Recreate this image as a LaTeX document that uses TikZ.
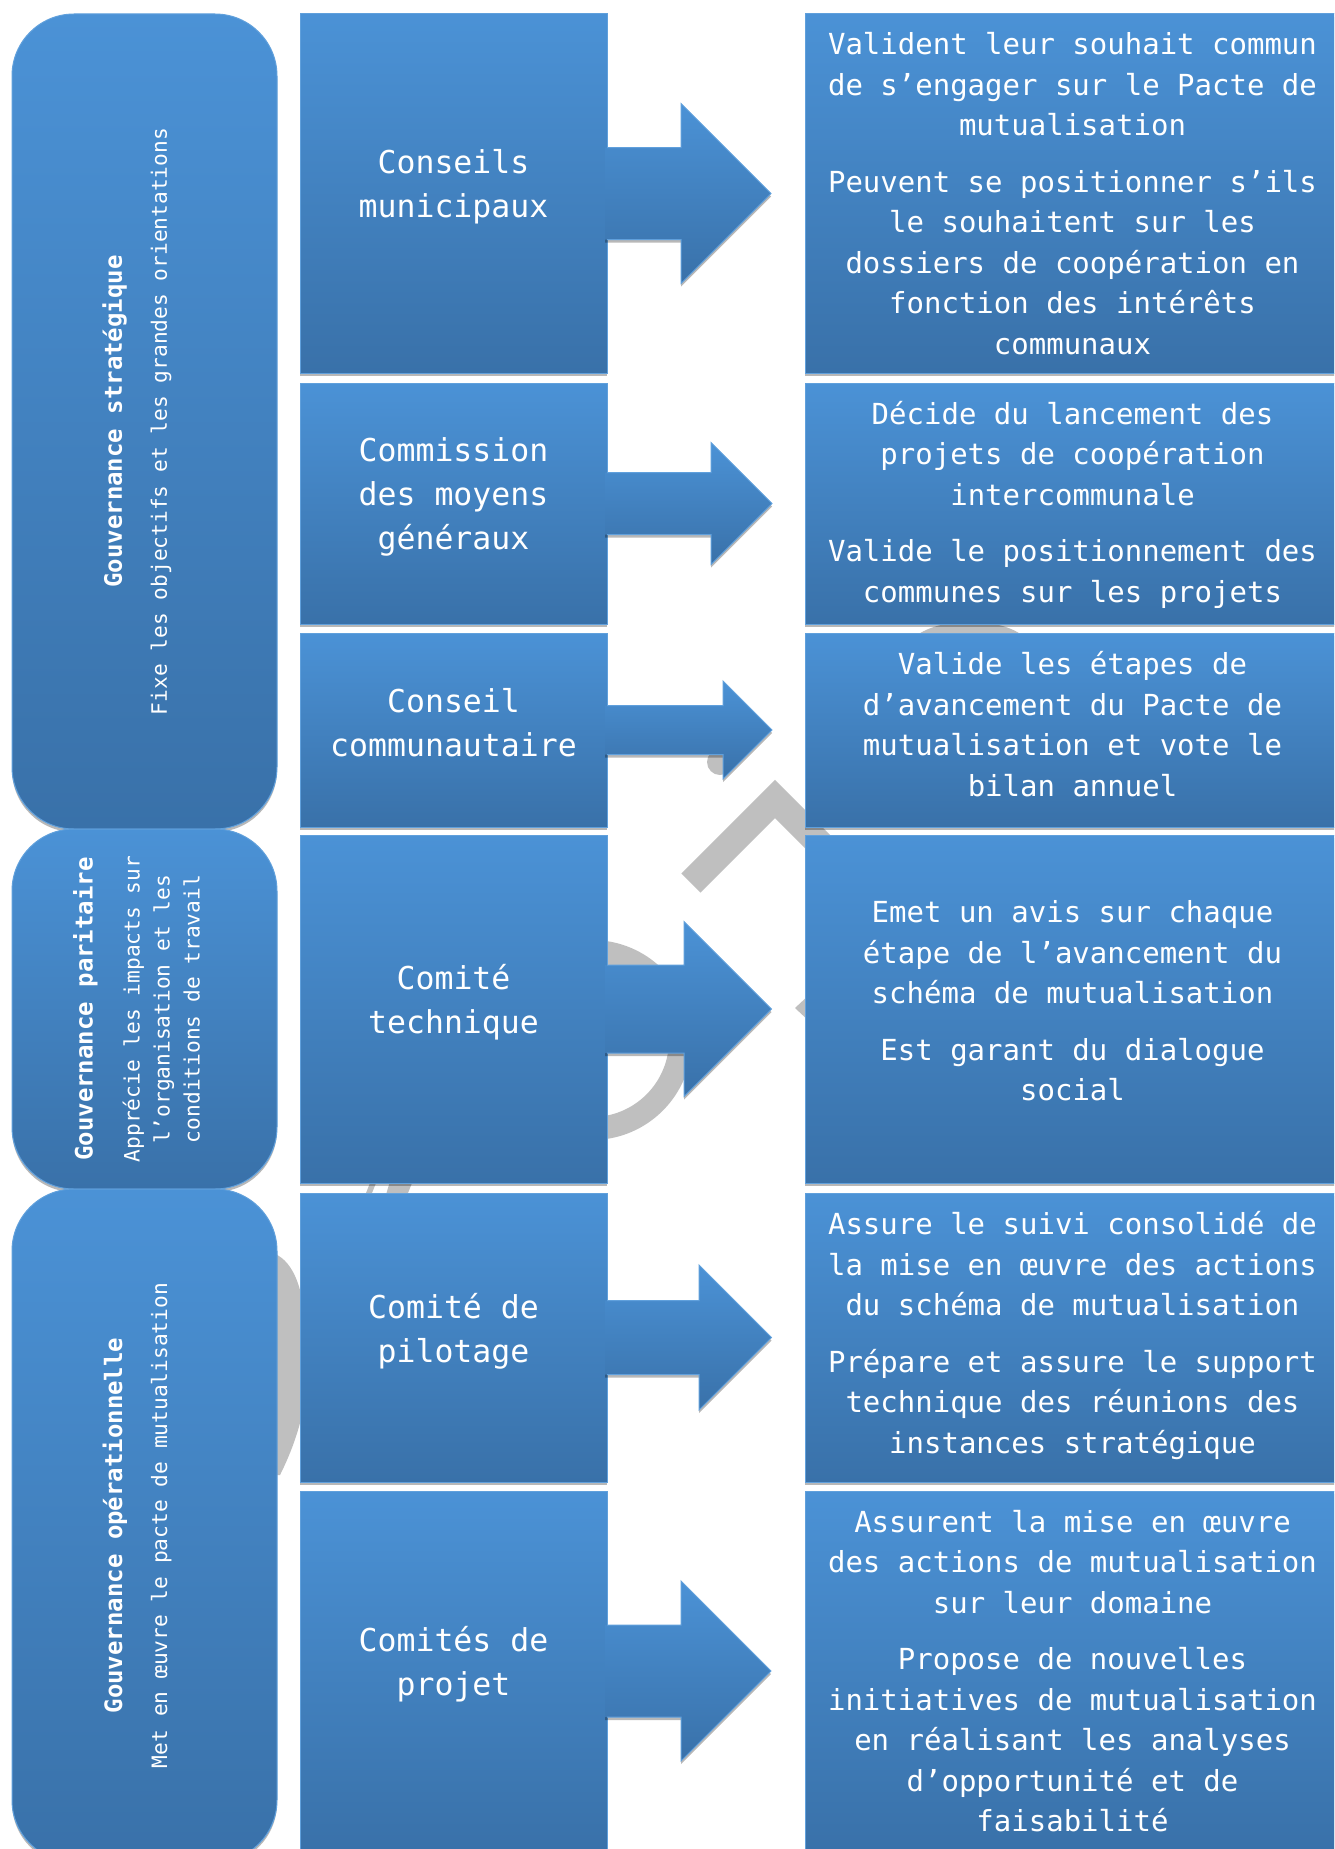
\documentclass[tikz,border=0pt]{standalone}
\usepackage{fontspec}
\setmainfont{DejaVu Sans Mono}
\usetikzlibrary{shadows,calc}
\definecolor{btop}{RGB}{75,146,214}
\definecolor{bbot}{RGB}{57,113,169}
\definecolor{bedge}{RGB}{96,160,220}
\definecolor{wmark}{RGB}{191,191,191}
\newcommand{\midfont}{\fontsize{31.5}{44}\selectfont}
\newcommand{\rfont}{\fontsize{29}{40.5}\selectfont}
\newcommand{\govsub}{\fontsize{21.2}{30}\selectfont}
\newcommand{\govtitle}{\fontsize{24}{30}\selectfont\bfseries}
\tikzset{
  shadowsty/.style={drop shadow={shadow xshift=0pt, shadow yshift=-3pt, opacity=0.28, fill=black}},
  boxsty/.style={rectangle, top color=btop, bottom color=bbot, draw=bedge, line width=1pt,
    inner sep=0pt, outer sep=0pt, shadowsty},
  govbox/.style={boxsty, rounded corners=62pt, minimum width=265pt},
  midbox/.style={boxsty, minimum width=307pt},
  rbox/.style={boxsty, minimum width=535pt},
  txtsty/.style={align=center, text=white, inner sep=0pt},
  midtxt/.style={txtsty, font=\midfont},
  rtxt/.style={txtsty, font=\rfont},
  govtxt/.style={txtsty, rotate=90, font=\govsub},
  arrowfill/.style={top color=btop, bottom color=bbot, shadowsty},
  arrowedge/.style={draw=bedge, line width=1pt, line join=miter},
}
\newcommand{\myblockarrow}[4]{%
  \shade[arrowfill] ($(#1.east)+(-2,-#2)$) -- ($(#1.east)+(#3,-#2)$) -- ($(#1.east)+(#3,-#4)$)
    -- ($(#1.east)+({#3+#4},0)$) -- ($(#1.east)+(#3,#4)$) -- ($(#1.east)+(#3,#2)$) -- ($(#1.east)+(-2,#2)$) -- cycle;
  \draw[arrowedge] ($(#1.east)+(0,-#2)$) -- ($(#1.east)+(#3,-#2)$) -- ($(#1.east)+(#3,-#4)$)
    -- ($(#1.east)+({#3+#4},0)$) -- ($(#1.east)+(#3,#4)$) -- ($(#1.east)+(#3,#2)$) -- ($(#1.east)+(0,#2)$);
}
\begin{document}
\begin{tikzpicture}[x=1pt,y=-1pt]
\useasboundingbox (0,0) rectangle (1334,1849);
\clip (0,0) rectangle (1334,1849);
\fill[white] (0,0) rectangle (1334,1849);

% watermark fragments
\fill[wmark, even odd rule] (592,1040) circle[radius=100] (592,1040) circle[radius=77];
\draw[wmark, line width=27pt, line join=miter] (691,883) -- (775,799) -- (870,894);
\fill[wmark] (720,762) circle[radius=13];
\fill[wmark] (916,636) .. controls (940,617) and (1000,617) .. (1023,636) -- cycle;
\fill[wmark] (270,1252) .. controls (292,1258) and (302,1285) .. (305,1320) -- (305,1400)
  .. controls (300,1430) and (290,1455) .. (280,1475) -- (270,1475) -- cycle;
\fill[wmark] (391,1178) -- (414,1178) -- (406,1198) -- (385,1198) -- cycle;
\fill[wmark] (364,1198) -- (372,1178) -- (378,1178) -- (370,1198) -- cycle;
\fill[wmark] (810,994) -- (795,1008) -- (810,1022) -- cycle;

% left governance boxes
\node[govbox, minimum height=815pt] (g1) at (144.5,421.5) {};
\node[govbox, minimum height=360pt] (g2) at (144.5,1009) {};
\node[govbox, minimum height=673pt] (g3) at (144.5,1525.5) {};
\node[govtxt] (g1t) at (137,421.5) {{\govtitle Gouvernance stratégique}\\[15pt]Fixe les objectifs et les grandes orientations};
\node[govtxt] (g2t) at (136.5,1009) {{\govtitle Gouvernance paritaire}\\[17pt]Apprécie les impacts sur\\l’organisation et les\\conditions de travail};
\node[govtxt] (g3t) at (137,1525.5) {{\govtitle Gouvernance opérationnelle}\\[15pt]Met en œuvre le pacte de mutualisation};

% middle boxes
\node[midbox, minimum height=359pt] (m1) at (453.5,193.5) {};
\node[midbox, minimum height=241pt] (m2) at (453.5,503.5) {};
\node[midbox, minimum height=194pt] (m3) at (453.5,730) {};
\node[midbox, minimum height=348pt] (m4) at (453.5,1009) {};
\node[midbox, minimum height=289pt] (m5) at (453.5,1337.5) {};
\node[midbox, minimum height=360pt] (m6) at (453.5,1671) {};
\node[midtxt] (m1t) at ($(m1.center)+(0,-6.5)$) {Conseils\\municipaux};
\node[midtxt] (m2t) at ($(m2.center)+(0,-6.5)$) {Commission\\des moyens\\généraux};
\node[midtxt] (m3t) at ($(m3.center)+(0,-7)$) {Conseil\\communautaire};
\node[midtxt] (m4t) at ($(m4.center)+(0,-6.5)$) {Comité\\technique};
\node[midtxt] (m5t) at ($(m5.center)+(0,-6.5)$) {Comité de\\pilotage};
\node[midtxt] (m6t) at ($(m6.center)+(0,-6.5)$) {Comités de\\projet};

% right boxes
\node[rbox, minimum height=359pt] (r1) at (1072.5,193.5) {};
\node[rbox, minimum height=241pt] (r2) at (1072.5,503.5) {};
\node[rbox, minimum height=194pt] (r3) at (1072.5,730) {};
\node[rbox, minimum height=348pt] (r4) at (1072.5,1009) {};
\node[rbox, minimum height=289pt] (r5) at (1072.5,1337.5) {};
\node[rbox, minimum height=360pt] (r6) at (1072.5,1671) {};
\node[rtxt] (r1t) at (r1.center) {Valident leur souhait commun\\de s’engager sur le Pacte de\\mutualisation\\[16pt]Peuvent se positionner s’ils\\le souhaitent sur les\\dossiers de coopération en\\fonction des intérêts\\communaux};
\node[rtxt] (r2t) at ($(r2.center)+(0,1)$) {Décide du lancement des\\projets de coopération\\intercommunale\\[16pt]Valide le positionnement des\\communes sur les projets};
\node[rtxt] (r3t) at ($(r3.center)+(0,-6)$) {Valide les étapes de\\d’avancement du Pacte de\\mutualisation et vote le\\bilan annuel};
\node[rtxt] (r4t) at ($(r4.center)+(0,-8)$) {Emet un avis sur chaque\\étape de l’avancement du\\schéma de mutualisation\\[16pt]Est garant du dialogue\\social};
\node[rtxt] (r5t) at ($(r5.center)+(0,-2)$) {Assure le suivi consolidé de\\la mise en œuvre des actions\\du schéma de mutualisation\\[16pt]Prépare et assure le support\\technique des réunions des\\instances stratégique};
\node[rtxt] (r6t) at (r6.center) {Assurent la mise en œuvre\\des actions de mutualisation\\sur leur domaine\\[16pt]Propose de nouvelles\\initiatives de mutualisation\\en réalisant les analyses\\d’opportunité et de\\faisabilité};

% block arrows
\myblockarrow{m1}{46}{74}{90}
\myblockarrow{m2}{31}{104}{61}
\myblockarrow{m3}{24.5}{116}{49}
\myblockarrow{m4}{44}{77}{87.5}
\myblockarrow{m5}{37}{92}{72.5}
\myblockarrow{m6}{46}{74}{90}
\end{tikzpicture}
\end{document}
